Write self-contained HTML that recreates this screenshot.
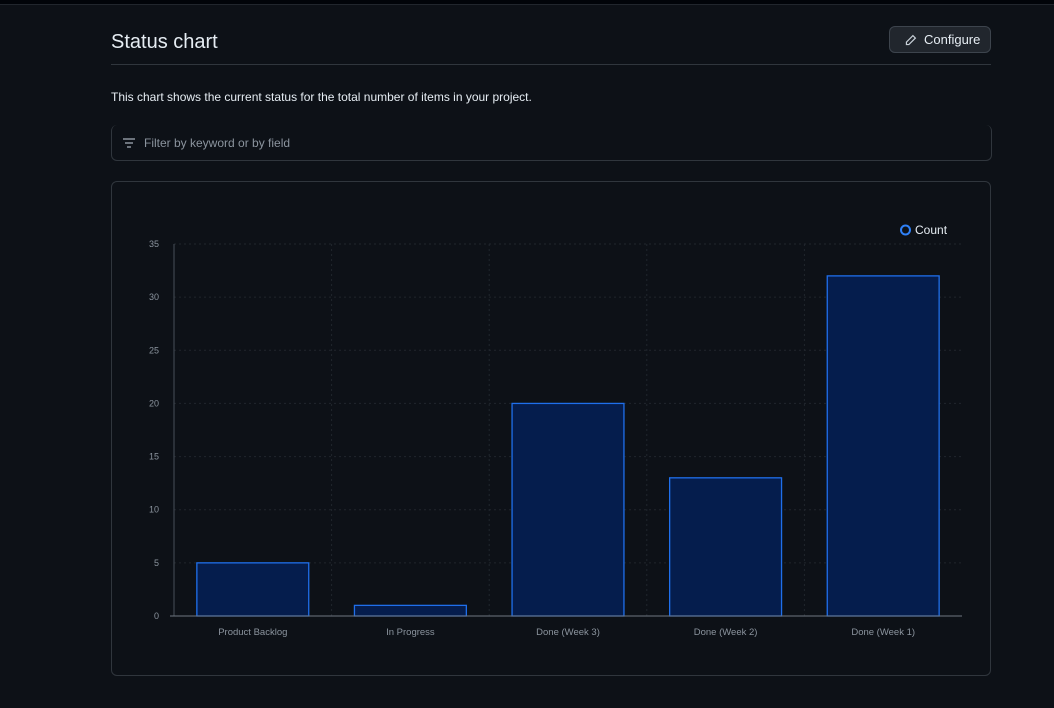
<!DOCTYPE html>
<html><head><meta charset="utf-8"><style>
body{margin:0;width:1054px;height:708px;background:#0d1117;font-family:"Liberation Sans",sans-serif;overflow:hidden;position:relative}
.abs{position:absolute}
</style></head><body>
<div class="abs" style="left:0;top:0;width:1054px;height:4px;background:#010409;border-bottom:1px solid #21262d"></div>
<div class="abs" style="left:111px;top:31px;font-size:20px;color:#e6edf3">Status chart</div>
<div class="abs" style="left:889px;top:26px;width:102px;height:27px;border:1px solid #3d444d;border-radius:6px;background:#21262d;color:#e6edf3;font-size:13px;box-sizing:border-box;line-height:26px;padding-left:34px">Configure
<svg class="abs" style="left:14px;top:7px" width="13" height="13" viewBox="0 0 16 16"><path d="M11 2l3 3-8 8H3v-3z" fill="none" stroke="#c9d1d9" stroke-width="1.5"/></svg></div>
<div class="abs" style="left:111px;top:64px;width:880px;height:1px;background:#30363d"></div>
<div class="abs" style="left:111px;top:90px;font-size:12px;color:#e6edf3">This chart shows the current status for the total number of items in your project.</div>
<div class="abs" style="left:111px;top:125px;width:881px;height:36px;border:1px solid #30363d;border-top:none;border-radius:6px;box-sizing:border-box;color:#8b949e;font-size:12px;line-height:36px;padding-left:32px">Filter by keyword or by field
<svg class="abs" style="left:11px;top:13px" width="12" height="10"><path d="M0 1h12M2 5h8M4 9h4" stroke="#8b949e" stroke-width="1.4"/></svg></div>
<div class="abs" style="left:111px;top:181px;width:880px;height:495px;border:1px solid #30363d;border-radius:6px;box-sizing:border-box"></div>
<svg class="abs" style="left:0;top:0" width="1054" height="708" id="chart"></svg>
<script>
const categories=["Product Backlog","In Progress","Done (Week 3)","Done (Week 2)","Done (Week 1)"];
const counts=[5,1,20,13,32];
const yTicks=[0,5,10,15,20,25,30,35];
const svg=document.getElementById('chart');
const NS='http://www.w3.org/2000/svg';
const X0=174,X1=962,Y0=616,Y1=244,YMAX=35;
const y=v=>Y0-(v/YMAX)*(Y0-Y1);
const band=(X1-X0)/categories.length;
function mk(t,a,txt){const e=document.createElementNS(NS,t);for(const k in a)e.setAttribute(k,a[k]);if(txt!==undefined)e.textContent=txt;svg.appendChild(e);return e;}
yTicks.forEach(t=>{
 const g=mk('line',{x1:X0,x2:X1,y1:y(t),y2:y(t),stroke:'#21262d','stroke-dasharray':'2,3'});
 
 
 const l=mk('text',{x:X0-15,y:y(t)+3,'text-anchor':'end',fill:'#8b949e','font-size':9,'font-family':'Liberation Sans'},t);
 
 
});
for(let i=1;i<categories.length;i++){
 const g=mk('line',{x1:X0+band*i,x2:X0+band*i,y1:Y1,y2:Y0,stroke:'#21262d','stroke-dasharray':'2,3'});
 
 
}
categories.forEach((c,i)=>{
 const w=band*0.71,x=X0+band*i+(band-w)/2;
 const b=mk('rect',{x:x,y:y(counts[i]),width:w,height:Y0-y(counts[i]),fill:'#051d4d',stroke:'#1f6feb','stroke-width':1.3});
 
 
 const l=mk('text',{x:X0+band*i+band/2,y:635,'text-anchor':'middle',fill:'#8b949e','font-size':9.5,'font-family':'Liberation Sans'},c);
 
 
});
const ax=mk('line',{x1:X0,x2:X0,y1:Y1,y2:Y0,stroke:'#484f58'});


const bx=mk('line',{x1:X0-4,x2:X1,y1:Y0,y2:Y0,stroke:'#6e7681'});


const lc=mk('circle',{cx:905.5,cy:230,r:4.5,fill:'none',stroke:'#2f81f7','stroke-width':2});


const lt=mk('text',{x:915,y:234,fill:'#e6edf3','font-size':12,'font-family':'Liberation Sans'},'Count');


</script>
</body></html>
